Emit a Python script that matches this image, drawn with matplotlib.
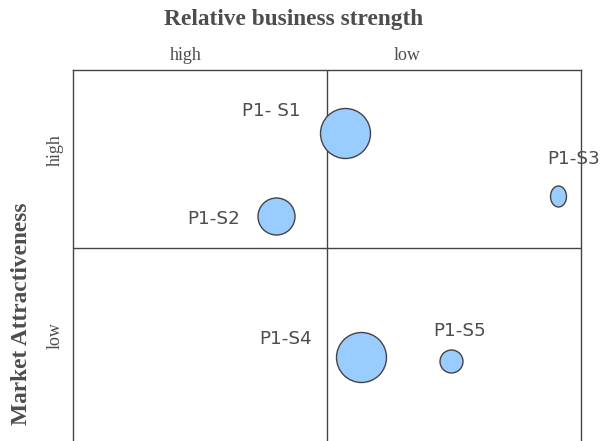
import matplotlib
matplotlib.use("Agg")
import matplotlib.pyplot as plt
from matplotlib.path import Path
import numpy as np

# ---- data ----
names = ["P1- S1", "P1-S2", "P1-S3", "P1-S4", "P1-S5"]
strength = [5.35, 4.0, 9.55, 5.66, 7.44]        # x (0..10, 5 = divider)
attract = [8.24, 5.9, 6.45, 1.95, 1.83]        # y (0..10, 5 = divider)
bubble_size = [1296, 710, 228, 1296, 274]      # marker area (pt^2)
bubble_aspect = [1.0, 1.0, 0.76, 1.0, 1.0]     # width / height of marker
label_x = [3.91, 2.76, 9.85, 4.18, 7.61]
label_y = [8.86, 5.81, 7.50, 2.44, 2.68]
col_labels = ["high", "low"]
col_label_x = [2.23, 6.57]
row_labels = ["high", "low"]

title = "Relative business strength"
ylabel = "Market Attractiveness"

# ---- figure ----
W, H = 605, 441
fig = plt.figure(figsize=(W / 100, H / 100), dpi=100)
ax_left, ax_right, ax_top, ax_bottom = 73, 581, 70, 447.4
ax = fig.add_axes([ax_left / W, 1 - ax_bottom / H,
                   (ax_right - ax_left) / W, (ax_bottom - ax_top) / H])
ax.set_xlim(0, 10)
ax.set_ylim(-0.6, 10)
ax.set_xticks([])
ax.set_yticks([])

line_col = "#444444"
for s in ["left", "right", "top", "bottom"]:
    ax.spines[s].set_color(line_col)
    ax.spines[s].set_linewidth(1.0)
ax.axvline(5, color=line_col, lw=1.0, zorder=1)
ax.axhline(5, color=line_col, lw=1.0, zorder=1)

theta = np.linspace(0, 2 * np.pi, 100)
for x, y, s, a in zip(strength, attract, bubble_size, bubble_aspect):
    if a == 1.0:
        marker = "o"
    else:
        verts = np.column_stack([a * np.cos(theta), np.sin(theta)])
        marker = Path(verts, closed=True)
    ax.scatter([x], [y], s=s, marker=marker, facecolor="#99ccff",
               edgecolor="#444444", linewidth=1.0, zorder=3)

txt_col = "#4d4d4d"
for n, lx, ly in zip(names, label_x, label_y):
    ax.text(lx, ly, n, ha="center", va="center", fontsize=13.2,
            family="DejaVu Sans", color=txt_col, clip_on=False, zorder=4)

for lab, lx in zip(col_labels, col_label_x):
    ax.text(lx, 10.42, lab, ha="center", va="center", fontsize=13,
            family="Liberation Serif", color=txt_col, clip_on=False)

row_label_px = [150, 335.5]
for lab, py in zip(row_labels, row_label_px):
    fig.text(55 / W, 1 - py / H, lab, rotation=90, ha="center", va="center",
             fontsize=13, family="Liberation Serif", color=txt_col)

fig.text(294 / W, 1 - 19 / H, title, ha="center", va="center", fontsize=16.8,
         family="Liberation Serif", weight="bold", color=txt_col)
fig.text(21.5 / W, 1 - 314 / H, ylabel, rotation=90, ha="center", va="center",
         fontsize=16.8, family="Liberation Serif", weight="bold", color=txt_col)

fig.savefig("out.png", dpi=100, facecolor="white")
